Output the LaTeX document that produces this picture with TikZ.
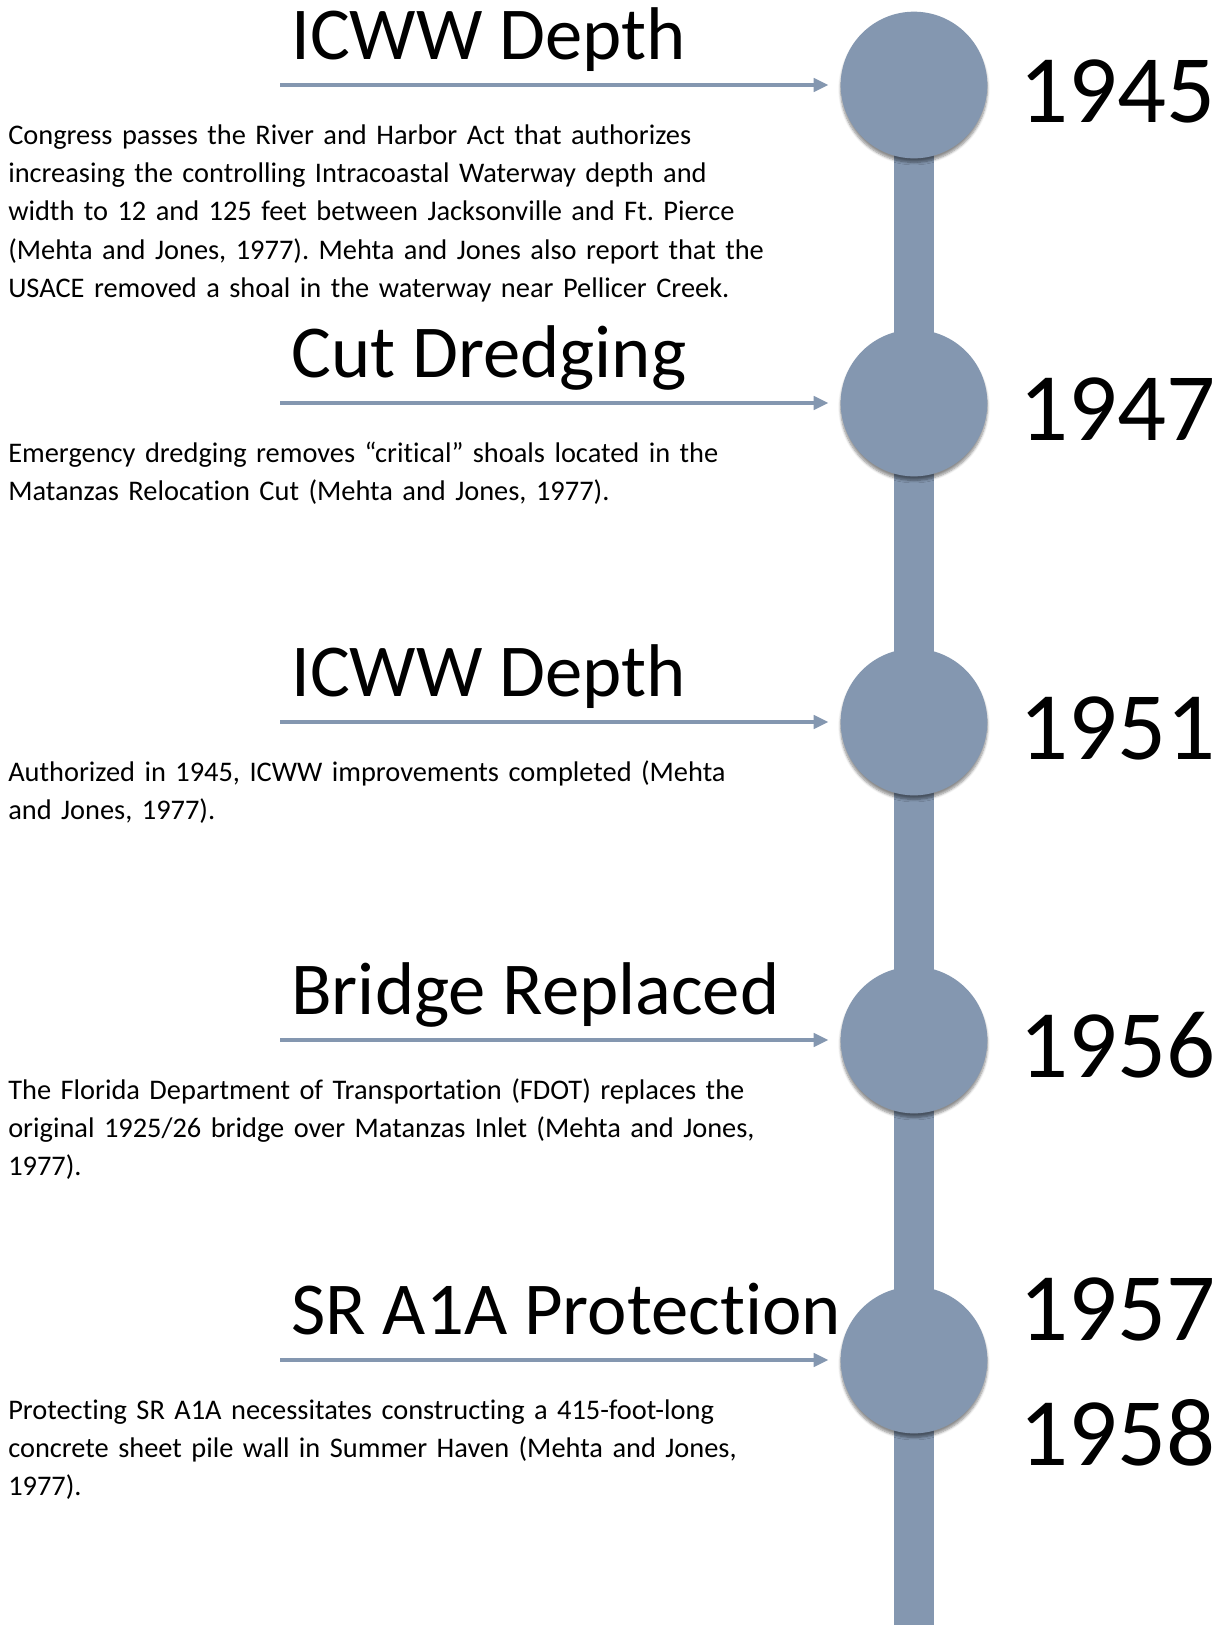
\documentclass[tikz,border=0pt]{standalone}
\usepackage{fontspec}
\setmainfont{Carlito}[Ligatures=NoCommon]
\usetikzlibrary{arrows.meta,backgrounds,shadows.blur}
\definecolor{tlblue}{HTML}{8497B0}
\frenchspacing
\begin{document}
\begin{tikzpicture}[x=0.75pt, y=-0.75pt,
  dot/.style={circle, fill=tlblue, minimum size=110pt, inner sep=0pt,
    blur shadow={shadow xshift=0pt, shadow yshift=-3pt, shadow blur steps=6, shadow opacity=45}},
  ttl/.style={anchor=base west, inner sep=0pt, font=\fontsize{56}{62}\selectfont},
  yr/.style={anchor=base west, inner sep=0pt, align=left, text width=170pt, font=\fontsize{72.5}{94}\selectfont},
  body/.style={anchor=base west, inner sep=0pt, align=left, text width=620pt, font=\fontsize{21.3}{28.8}\selectfont},
  arr/.style={-{Triangle[length=11pt,width=10pt]}, line width=2.5pt, tlblue, shorten >=9pt},
  bar/.style={line width=30pt, tlblue}
]
\useasboundingbox (0,0) rectangle (1225,1625);
% timeline dots
\node[dot] (d1945) at (914,85) {};
\node[dot] (d1947) at (914,403) {};
\node[dot] (d1951) at (914,722) {};
\node[dot] (d1956) at (914,1040) {};
\node[dot] (d1957) at (914,1360) {};
\coordinate (bot) at (914,1625);
\begin{scope}[on background layer]
  \draw[bar] (d1945.center) -- (bot);
\end{scope}
% years
\node[yr] (y1945) at (1019,122) {1945};
\node[yr] (y1947) at (1019,440) {1947};
\node[yr] (y1951) at (1019,759) {1951};
\node[yr] (y1956) at (1019,1077) {1956};
\node[yr] (y1957) at (1019,1340) {1957\\1958};
% titles
\node[ttl] (t1945) at (291,59) {ICWW Depth};
\node[ttl] (t1947) at (291,377) {Cut Dredging};
\node[ttl] (t1951) at (291,696) {ICWW Depth};
\node[ttl] (t1956) at (291,1014) {Bridge Replaced};
\node[ttl] (t1957) at (291,1334) {SR A1A Protection};
% arrows
\coordinate (a1945) at (280,85);
\coordinate (a1947) at (280,403);
\coordinate (a1951) at (280,722);
\coordinate (a1956) at (280,1040);
\coordinate (a1957) at (280,1360);
\draw[arr] (a1945) -- (d1945);
\draw[arr] (a1947) -- (d1947);
\draw[arr] (a1951) -- (d1951);
\draw[arr] (a1956) -- (d1956);
\draw[arr] (a1957) -- (d1957);
% descriptions
\node[body] (b1945) at (8,144) {Congress passes the River and Harbor Act that authorizes\\
increasing the controlling Intracoastal Waterway depth and\\
width to 12 and 125 feet between Jacksonville and Ft. Pierce\\
(Mehta and Jones, 1977). Mehta and Jones also report that the\\
USACE removed a shoal in the waterway near Pellicer Creek.};
\node[body] (b1947) at (8,462) {Emergency dredging removes “critical” shoals located in the\\
Matanzas Relocation Cut (Mehta and Jones, 1977).};
\node[body] (b1951) at (8,781) {Authorized in 1945, ICWW improvements completed (Mehta\\
and Jones, 1977).};
\node[body] (b1956) at (8,1099) {The Florida Department of Transportation (FDOT) replaces the\\
original 1925/26 bridge over Matanzas Inlet (Mehta and Jones,\\
1977).};
\node[body] (b1957) at (8,1419) {Protecting SR A1A necessitates constructing a 415-foot-long\\
concrete sheet pile wall in Summer Haven (Mehta and Jones,\\
1977).};
\end{tikzpicture}
\end{document}
